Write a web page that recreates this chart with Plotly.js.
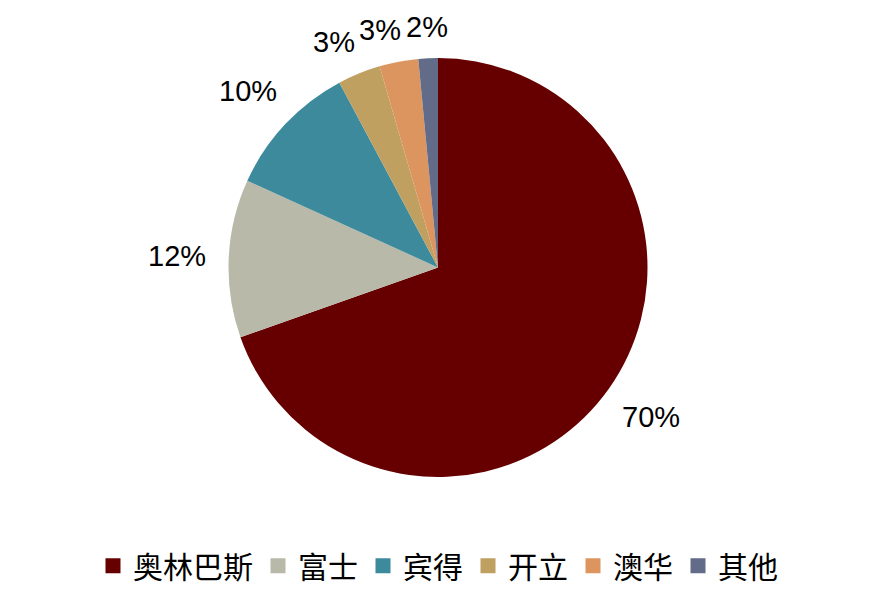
<!DOCTYPE html>
<html><head><meta charset="utf-8">
<script src="https://cdn.plot.ly/plotly-3.0.1.min.js"></script>
<style>html,body{margin:0;padding:0;background:#fff;}#chart{width:892px;height:592px;}</style>
</head><body><div id="chart"></div>
<script>
var categories = ['奥林巴斯', '富士', '宾得', '开立', '澳华', '其他'];
var shares = [69.6, 12.2, 10.4, 3.3, 3.0, 1.5];
var colors = ['#660000', '#B9B9A9', '#3C8A9C', '#BFA060', '#DD9560', '#626B87'];

var W = 892, H = 592;
var margin = {l: 0, r: 16, t: 58, b: 112};
var plotW = W - margin.l - margin.r, plotH = H - margin.t - margin.b;
var radius = Math.min(plotW, plotH) / 2;
var labelSize = 29;

// outside percentage labels, placed at each slice's mid-angle,
// nudged counter-clockwise where neighbouring labels would collide
var total = shares.reduce(function (a, b) { return a + b; }, 0);
var labels = [];
var cum = 0;
shares.forEach(function (v) {
  var frac = v / total;
  var txt = Math.round(frac * 100) + '%';
  labels.push({
    ang: (cum + frac / 2) * 2 * Math.PI,
    txt: txt,
    hw: labelSize * (0.556 * (txt.length - 1) + 0.889) / 2,
    hh: 10
  });
  cum += frac;
});
function place(L) {
  var sx = Math.sin(L.ang), sy = Math.cos(L.ang);
  var rr = radius + 21 + Math.abs(sx) * L.hw + Math.abs(sy) * L.hh;
  L.px = rr * sx; L.py = rr * sy;
}
labels.forEach(place);
for (var i = labels.length - 2; i >= 0; i--) {
  var a = labels[i], b = labels[i + 1], guard = 0;
  while (Math.abs(a.px - b.px) < a.hw + b.hw + 4 && Math.abs(a.py - b.py) < a.hh + b.hh + 14 && guard++ < 200) {
    a.ang -= 0.005; place(a);
  }
}
var annotations = labels.map(function (L) {
  return {
    xref: 'paper', yref: 'paper',
    x: 0.5 + L.px / plotW, y: 0.5 + L.py / plotH,
    xanchor: 'center', yanchor: 'middle', showarrow: false,
    text: L.txt,
    font: {family: 'Liberation Sans, Arial, sans-serif', size: labelSize, color: '#000'}
  };
});

var trace = {
  type: 'pie',
  labels: categories,
  values: shares,
  sort: false,
  direction: 'clockwise',
  rotation: 0,
  marker: {colors: colors, line: {width: 0}},
  textinfo: 'none',
  textposition: 'none',
  hoverinfo: 'none'
};
var layout = {
  width: W, height: H,
  margin: margin,
  paper_bgcolor: '#fff',
  showlegend: true,
  annotations: annotations,
  legend: {orientation: 'h', x: 0.5, xanchor: 'center', y: -0.15, yanchor: 'top',
    font: {family: 'Noto Sans CJK SC, sans-serif', size: 30, color: '#000'},
    itemwidth: 30, traceorder: 'normal'}
};
Plotly.newPlot('chart', [trace], layout, {displayModeBar: false, staticPlot: true}).then(function (gd) {
  var pts = gd.querySelectorAll('.legendpoints path');
  pts.forEach(function (p) { p.setAttribute('transform', (p.getAttribute('transform') || '') + ' scale(1.25)'); });
});
</script></body></html>
